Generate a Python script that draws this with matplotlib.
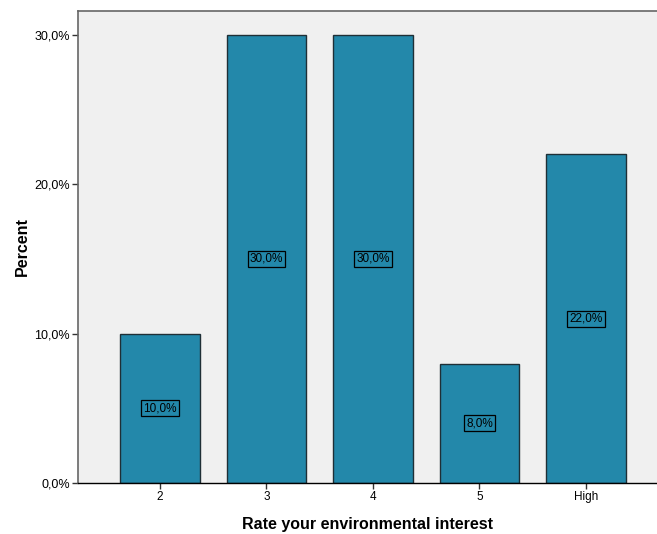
import numpy as np
import matplotlib.pyplot as plt

plt.rcParams["font.family"] = ["Liberation Sans", "DejaVu Sans"]

categories = ["2", "3", "4", "5", "High"]
percent = [10.0, 30.0, 30.0, 8.0, 22.0]
yticks = [0, 10, 20, 30]

fig = plt.figure(figsize=(6.57, 5.34), dpi=100)
ax = fig.add_axes([78 / 657, 1 - 483 / 534, 1 - 78 / 657, (483 - 11) / 534])
ax.set_facecolor("#f0f0f0")

x = np.arange(len(categories))
ax.bar(x, percent, width=0.75, color="#2388aa", edgecolor="#1f2f36", linewidth=1.0, zorder=2)

for xi, v in zip(x, percent):
    ax.text(xi, v / 2, f"{v:.1f}%".replace(".", ","), ha="center", va="center", fontsize=8.5,
            color="black", zorder=3,
            bbox=dict(boxstyle="square,pad=0.18", facecolor="none", edgecolor="black", linewidth=0.9))

ax.set_xlim(-0.77, 4.667)
ax.set_ylim(0, 31.6)
ax.set_xticks(x)
ax.set_xticklabels(categories, fontsize=8.5)
ax.set_yticks(yticks)
ax.set_yticklabels([f"{t:.1f}%".replace(".", ",") for t in yticks], fontsize=9)
ax.tick_params(axis="both", length=4, width=1, color="#333333", pad=2)

for side in ["left", "top"]:
    ax.spines[side].set_color("#666666")
    ax.spines[side].set_linewidth(1.2)
ax.spines["right"].set_visible(False)
ax.spines["bottom"].set_color("black")
ax.spines["bottom"].set_linewidth(1.0)

ax.set_xlabel("Rate your environmental interest", fontsize=11.5, fontweight="bold", labelpad=10)
ax.set_ylabel("Percent", fontsize=11.5, fontweight="bold", labelpad=3)

fig.savefig("out.png", dpi=100)
